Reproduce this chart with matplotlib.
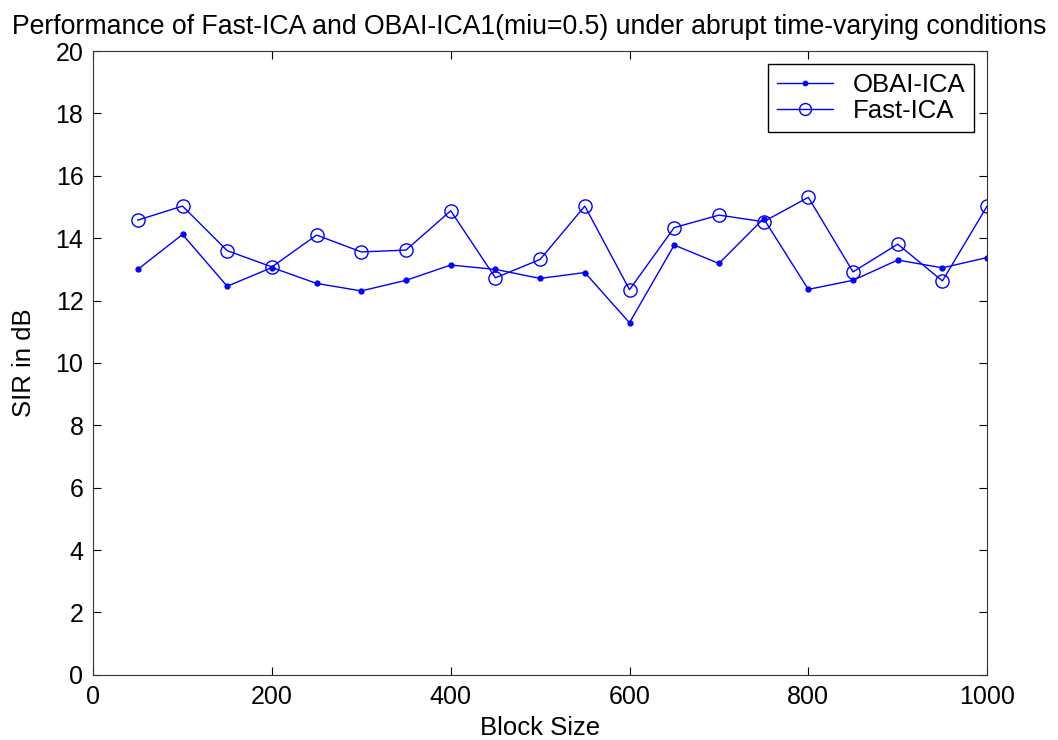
import matplotlib
matplotlib.use("Agg")
import matplotlib.pyplot as plt

plt.rcParams['font.family'] = ['Liberation Sans', 'DejaVu Sans']

# block sizes and SIR results (dB)
block_size = [50, 100, 150, 200, 250, 300, 350, 400, 450, 500,
              550, 600, 650, 700, 750, 800, 850, 900, 950, 1000]
obai_ica = [13.0, 14.12, 12.46, 13.06, 12.55, 12.31, 12.65, 13.14, 13.0, 12.71,
            12.9, 11.29, 13.78, 13.19, 14.63, 12.36, 12.65, 13.3, 13.05, 13.38]
fast_ica = [14.58, 15.03, 13.6, 13.08, 14.1, 13.56, 13.62, 14.88, 12.73, 13.32,
            15.03, 12.35, 14.34, 14.74, 14.53, 15.31, 12.92, 13.81, 12.63, 15.03]

fig = plt.figure(figsize=(10.58, 7.4), dpi=100)
ax = fig.add_axes([0.088, 0.088, 0.845, 0.843])

ax.plot(block_size, obai_ica, color='blue', marker='.', markersize=7,
        linewidth=1, label='OBAI-ICA')
ax.plot(block_size, fast_ica, color='blue', marker='o', markersize=9.5,
        markerfacecolor='none', linewidth=1, label='Fast-ICA')

ax.set_xlim(0, 1000)
ax.set_ylim(0, 20)
ax.set_xticks(range(0, 1001, 200))
ax.set_yticks(range(0, 21, 2))
ax.tick_params(direction='in', top=True, right=True, labelsize=18, length=6, pad=7)
for s in ax.spines.values():
    s.set_color('#333333')

ax.set_xlabel('Block Size', fontsize=18.5, labelpad=5)
ax.set_ylabel('SIR in dB', fontsize=18.5, labelpad=14)

# title centred on the whole figure so it fits the width
fig.text(0.5, 0.946, 'Performance of Fast-ICA and OBAI-ICA1(miu=0.5) under abrupt time-varying conditions',
         fontsize=19.2, ha='center', va='bottom')

leg = ax.legend(loc='upper right', fontsize=18.5, handlelength=2.2, handletextpad=0.75,
                labelspacing=0.1, borderpad=0.35, fancybox=False, markerscale=0.9,
                framealpha=1, edgecolor='black', borderaxespad=0.5)
leg.get_frame().set_linewidth(1)

fig.savefig('out.png')
